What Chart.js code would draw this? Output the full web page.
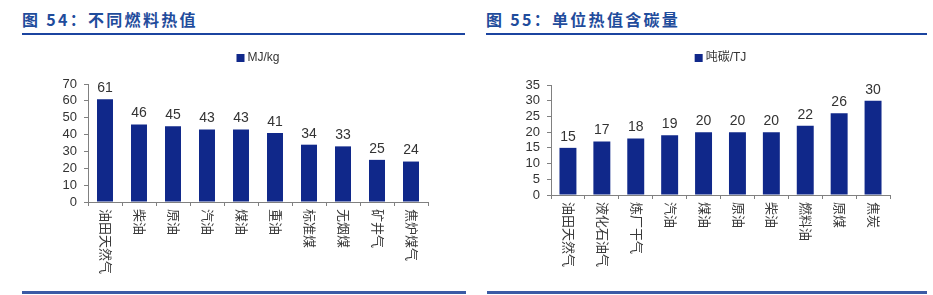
<!DOCTYPE html>
<html>
<head>
<meta charset="utf-8">
<script src="https://cdn.jsdelivr.net/npm/chart.js@4.4.0/dist/chart.umd.min.js"></script>
<style>
  body { margin: 0; width: 933px; height: 295px; overflow: hidden; background: #fff; position: relative; font-family: "Noto Sans CJK SC", sans-serif; }
  .title { position: absolute; top: 8px; font-weight: bold; font-size: 16px; letter-spacing: 2.3px; color: #1f4c9c; line-height: 22px; white-space: nowrap; }
  .rule { position: absolute; top: 33px; height: 2px; background: #1b44a0; }
  .foot { position: absolute; top: 291px; height: 3px; background: #3b5ba5; }
  .box { position: absolute; top: 40px; height: 255px; }
</style>
</head>
<body>
<div class="title" style="left:22px">图 54：不同燃料热值</div>
<div class="rule" style="left:22px;width:443px"></div>
<div class="title" style="left:486px">图 55：单位热值含碳量</div>
<div class="rule" style="left:486px;width:441px"></div>
<div class="foot" style="left:22px;width:444px"></div>
<div class="foot" style="left:487px;width:440px"></div>

<div class="box" style="left:0;width:466px"><canvas id="heat"></canvas></div>
<div class="box" style="left:466px;width:467px"><canvas id="carbon"></canvas></div>

<script>
// 图54 不同燃料热值
const heatFuels = ['油田天然气', '柴油', '原油', '汽油', '煤油', '重油', '标准煤', '无烟煤', '矿井气', '焦炉煤气'];
const heatValues = [61, 46, 45, 43, 43, 41, 34, 33, 25, 24];
const heatSeries = 'MJ/kg';

// 图55 单位热值含碳量
const carbonFuels = ['油田天然气', '液化石油气', '炼厂干气', '汽油', '煤油', '原油', '柴油', '燃料油', '原煤', '焦炭'];
const carbonValues = [15, 17, 18, 19, 20, 20, 20, 22, 26, 30];
const carbonSeries = '吨碳/TJ';

const barColor = '#10288a';
const axisColor = '#808080';
const textColor = '#333333';

// values above the bars
const valueLabels = {
  id: 'valueLabels',
  afterDatasetsDraw(chart) {
    const ctx = chart.ctx;
    const meta = chart.getDatasetMeta(0);
    ctx.save();
    ctx.font = '14px "Liberation Sans", Arial, sans-serif';
    ctx.fillStyle = textColor;
    ctx.textAlign = 'center';
    ctx.textBaseline = 'bottom';
    meta.data.forEach((bar, i) => {
      ctx.fillText(chart.data.datasets[0].data[i], bar.x, bar.y - 4);
    });
    ctx.restore();
  }
};

// category names written top-to-bottom under the axis, plus a legend over the plot
const verticalLabels = {
  id: 'verticalLabels',
  afterDraw(chart) {
    const ctx = chart.ctx;
    const xs = chart.scales.x;
    const area = chart.chartArea;
    ctx.save();
    ctx.font = '13px "Noto Sans CJK SC", sans-serif';
    ctx.fillStyle = '#3a3a3a';
    ctx.textAlign = 'left';
    ctx.textBaseline = 'middle';
    chart.data.labels.forEach((lab, i) => {
      const x = xs.getPixelForTick(i);
      ctx.save();
      ctx.translate(x + 1, xs.top + 7);
      ctx.rotate(Math.PI / 2);
      ctx.fillText(lab, 0, 0);
      ctx.restore();
    });

    // legend
    const name = chart.data.datasets[0].label;
    ctx.font = '12px "Liberation Sans", "Noto Sans CJK SC", sans-serif';
    const tw = ctx.measureText(name).width;
    const total = 8 + 3 + tw;
    const cx = (area.left + area.right) / 2;
    const lx = cx - total / 2;
    const ly = area.top - chart.options.plugins.verticalLabels.legendGap;
    ctx.fillStyle = barColor;
    ctx.fillRect(lx, ly - 4, 8, 8);
    ctx.fillStyle = textColor;
    ctx.fillText(name, lx + 11, ly);
    ctx.restore();
  }
};

function makeChart(id, labels, values, series, yMax, yStep, yWidth, xHeight, pad, barPct, legendGap) {
  return new Chart(document.getElementById(id), {
    type: 'bar',
    data: {
      labels: labels,
      datasets: [{
        label: series,
        data: values,
        backgroundColor: barColor,
        borderWidth: 0,
        barPercentage: barPct,
        categoryPercentage: 1.0
      }]
    },
    options: {
      responsive: true,
      maintainAspectRatio: false,
      animation: false,
      layout: { padding: pad },
      scales: {
        x: {
          offset: true,
          grid: { display: true, drawOnChartArea: false, offset: true, tickLength: 4, color: axisColor },
          border: { color: axisColor },
          ticks: { display: false },
          afterFit(s) { s.height = xHeight; }
        },
        y: {
          min: 0,
          max: yMax,
          ticks: { stepSize: yStep, autoSkip: false, padding: 7, color: textColor, font: { size: 13, family: '"Liberation Sans", Arial, sans-serif' } },
          grid: { drawOnChartArea: false, tickLength: 4, color: axisColor },
          border: { color: axisColor },
          afterFit(s) { s.width = yWidth; }
        }
      },
      plugins: {
        legend: { display: false },
        tooltip: { enabled: false },
        verticalLabels: { legendGap: legendGap }
      }
    },
    plugins: [valueLabels, verticalLabels]
  });
}

makeChart('heat', heatFuels, heatValues, heatSeries, 70, 10, 48, 93,
  { left: 40, right: 38, top: 44, bottom: 0 }, 0.47, 26);
makeChart('carbon', carbonFuels, carbonValues, carbonSeries, 35, 5, 50, 100,
  { left: 35, right: 43, top: 45, bottom: 0 }, 0.5, 27);
</script>
</body>
</html>
